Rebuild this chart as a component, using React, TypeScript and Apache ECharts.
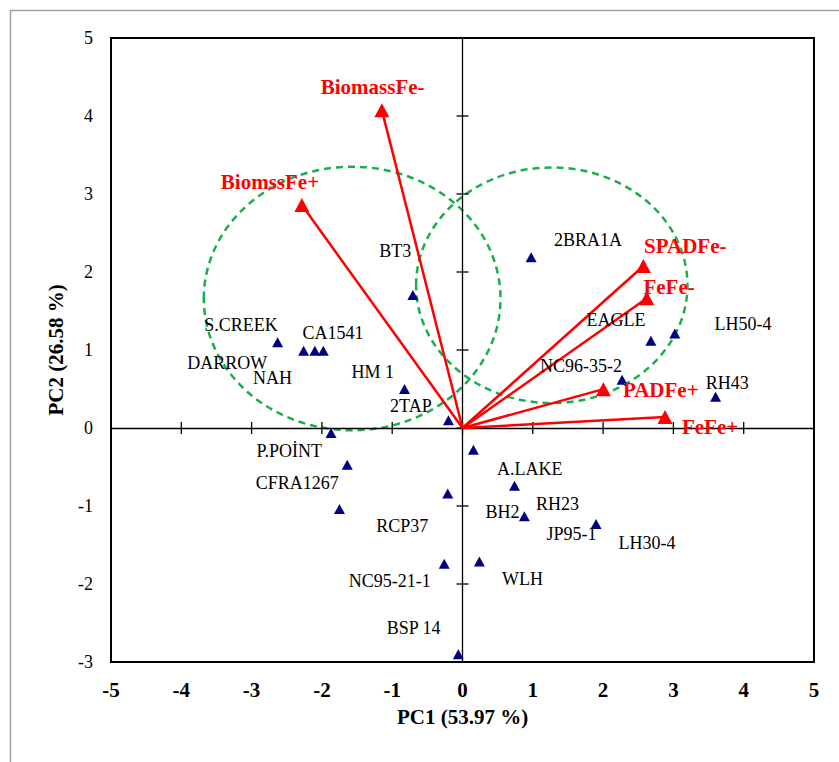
import React, { useEffect, useRef } from 'react';
import * as echarts from 'echarts';

// Genotype scores (PC1, PC2)
const genotypePC1 = [-0.706, -2.63, -2.26, -2.1, -1.98, -0.825, -0.2, -1.87, 0.155, -1.64, -0.21, -1.75, 0.74, 0.88, 1.9, -0.26, 0.24, -0.06, 0.976, 2.68, 3.02, 2.27, 3.6];
const genotypePC2 = [1.706, 1.1, 0.99, 0.99, 0.99, 0.5, 0.1, -0.065, -0.28, -0.47, -0.84, -1.04, -0.74, -1.13, -1.23, -1.74, -1.71, -2.9, 2.19, 1.12, 1.21, 0.62, 0.4];

// Genotype label texts and their anchor locations (PC units)
const genotypeNames = ['BT3', 'S.CREEK', 'CA1541', 'DARROW', 'NAH', 'HM 1', '2TAP', 'P.POİNT', 'CFRA1267', 'RCP37', 'NC95-21-1', 'BSP 14', 'A.LAKE', 'BH2', 'RH23', 'JP95-1', 'LH30-4', 'WLH', '2BRA1A', 'EAGLE', 'LH50-4', 'NC96-35-2', 'RH43'];
const genotypeLabelPC1 = [-0.958, -3.15, -1.842, -3.346, -2.704, -1.278, -0.734, -2.465, -2.351, -0.858, -1.036, -0.695, 0.955, 0.568, 1.353, 1.549, 2.625, 0.855, 1.784, 2.182, 3.99, 1.684, 3.766];
const genotypeLabelPC2 = [2.266, 1.318, 1.215, 0.835, 0.639, 0.72, 0.28, -0.292, -0.702, -1.261, -1.965, -2.558, -0.52, -1.073, -0.977, -1.361, -1.47, -1.933, 2.414, 1.382, 1.334, 0.8, 0.575];

// Trait loadings (vectors)
const traitNames = ['BiomassFe-', 'BiomssFe+', 'SPADFe-', 'FeFe-', 'PADFe+', 'FeFe+'];
const traitPC1 = [-1.147, -2.285, 2.573, 2.621, 2.004, 2.881];
const traitPC2 = [4.075, 2.858, 2.077, 1.663, 0.498, 0.14];
const traitLabelPC1 = [-1.278, -2.739, 3.169, 2.938, 2.82, 3.521];
const traitLabelPC2 = [4.373, 3.152, 2.339, 1.802, 0.487, 0.015];

// Group ellipses: centre PC1, centre PC2, radius PC1, radius PC2
const ellipseCenterPC1 = [-1.57, 1.27];
const ellipseCenterPC2 = [1.66, 1.83];
const ellipseRadiusPC1 = [2.11, 1.93];
const ellipseRadiusPC2 = [1.69, 1.51];

// Axis ticks
const xTicks = [-5, -4, -3, -2, -1, 0, 1, 2, 3, 4, 5];
const yTicks = [-3, -2, -1, 0, 1, 2, 3, 4, 5];

const FONT = '"Liberation Serif", "Times New Roman", serif';
const RED = '#ff0000';
const GREEN = '#1aae4c';
const NAVY = '#000080';

export default function App() {
  const ref = useRef<HTMLDivElement>(null);
  useEffect(() => {
    const chart = echarts.init(ref.current!, null, { renderer: 'svg' });
    const option: any = {
      animation: false,
      backgroundColor: '#fff',
      graphic: [
        {
          type: 'rect',
          left: 8,
          top: 8,
          shape: { x: 0, y: 0, width: 1000, height: 1000 },
          style: { fill: 'none', stroke: '#a0a0a0', lineWidth: 1.5 },
          silent: true,
        },
      ],
      grid: { left: 111, right: 25, top: 38, bottom: 100, show: true, borderColor: '#000', borderWidth: 2, backgroundColor: 'transparent' },
      xAxis: {
        type: 'value', min: -5, max: 5, interval: 1,
        axisLine: { show: false }, axisTick: { show: false }, splitLine: { show: false },
        axisLabel: { fontFamily: FONT, fontWeight: 'bold', fontSize: 21, color: '#000', margin: 17 },
        name: 'PC1 (53.97 %)', nameLocation: 'middle', nameGap: 44,
        nameTextStyle: { fontFamily: FONT, fontWeight: 'bold', fontSize: 21, color: '#000' },
      },
      yAxis: {
        type: 'value', min: -3, max: 5, interval: 1,
        axisLine: { show: false }, axisTick: { show: false }, splitLine: { show: false },
        axisLabel: { fontFamily: FONT, fontSize: 18, color: '#000', margin: 18 },
        name: 'PC2 (26.58 %)', nameLocation: 'middle', nameGap: 45, nameRotate: 90,
        nameTextStyle: { fontFamily: FONT, fontWeight: 'bold', fontSize: 21, color: '#000' },
      },
      series: [
        {
          type: 'custom',
          silent: true,
          z: 1,
          data: ellipseCenterPC1.map((x, i) => [x, ellipseCenterPC2[i], ellipseRadiusPC1[i], ellipseRadiusPC2[i]]),
          renderItem: (params: any, api: any) => {
            const c = api.coord([api.value(0), api.value(1)]);
            const s = api.size([api.value(2), api.value(3)]);
            return {
              type: 'ellipse',
              shape: { cx: c[0], cy: c[1], rx: s[0], ry: s[1] },
              style: { fill: 'none', stroke: GREEN, lineWidth: 2.5, lineDash: [7, 5] },
            };
          },
        },
        {
          type: 'lines',
          coordinateSystem: 'cartesian2d',
          silent: true,
          z: 2,
          lineStyle: { color: '#000', width: 1.3, opacity: 1 },
          data: [
            { coords: [[xTicks[0], 0], [xTicks[xTicks.length - 1], 0]] },
            { coords: [[0, yTicks[0]], [0, yTicks[yTicks.length - 1]]] },
          ],
        },
        {
          type: 'custom',
          silent: true,
          z: 2,
          data: [...xTicks.map((v) => [v, 0, 0]), ...yTicks.map((v) => [0, v, 1])],
          renderItem: (params: any, api: any) => {
            const p = api.coord([api.value(0), api.value(1)]);
            const vertical = api.value(2) === 0;
            return {
              type: 'line',
              shape: vertical
                ? { x1: p[0], y1: p[1] - 6, x2: p[0], y2: p[1] + 6 }
                : { x1: p[0] - 6, y1: p[1], x2: p[0] + 6, y2: p[1] },
              style: { stroke: '#000', lineWidth: 1.3 },
            };
          },
        },
        {
          type: 'lines',
          coordinateSystem: 'cartesian2d',
          silent: true,
          z: 3,
          lineStyle: { color: RED, width: 2.5, opacity: 1 },
          data: traitPC1.map((x, i) => ({ coords: [[0, 0], [x, traitPC2[i]]] })),
        },
        {
          type: 'scatter',
          silent: true,
          z: 4,
          symbol: 'triangle',
          symbolSize: [15, 14],
          itemStyle: { color: RED, opacity: 1 },
          data: traitPC1.map((x, i) => ({ name: traitNames[i], value: [x, traitPC2[i]] })),
        },
        {
          type: 'scatter',
          silent: true,
          z: 5,
          symbol: 'triangle',
          symbolSize: [11, 10],
          itemStyle: { color: NAVY, opacity: 1 },
          data: genotypePC1.map((x, i) => [x, genotypePC2[i]]),
        },
        {
          type: 'scatter',
          silent: true,
          z: 6,
          symbol: 'circle',
          symbolSize: 1,
          itemStyle: { color: 'rgba(0,0,0,0)', opacity: 1 },
          label: { show: true, position: 'inside', formatter: '{b}', color: '#000', opacity: 1, fontFamily: FONT, fontSize: 18, textBorderWidth: 0 },
          data: genotypeLabelPC1.map((x, i) => ({ name: genotypeNames[i], value: [x, genotypeLabelPC2[i]] })),
        },
        {
          type: 'scatter',
          silent: true,
          z: 6,
          symbol: 'circle',
          symbolSize: 1,
          itemStyle: { color: 'rgba(0,0,0,0)', opacity: 1 },
          label: { show: true, position: 'inside', formatter: '{b}', color: RED, opacity: 1, fontFamily: FONT, fontWeight: 'bold', fontSize: 21, textBorderWidth: 0 },
          data: traitLabelPC1.map((x, i) => ({ name: traitNames[i], value: [x, traitLabelPC2[i]] })),
        },
      ],
    };
    chart.setOption(option);
    return () => chart.dispose();
  }, []);
  return <div ref={ref} style={{ position: 'fixed', left: 0, top: 0, width: 839, height: 762, background: '#fff' }} />;
}
